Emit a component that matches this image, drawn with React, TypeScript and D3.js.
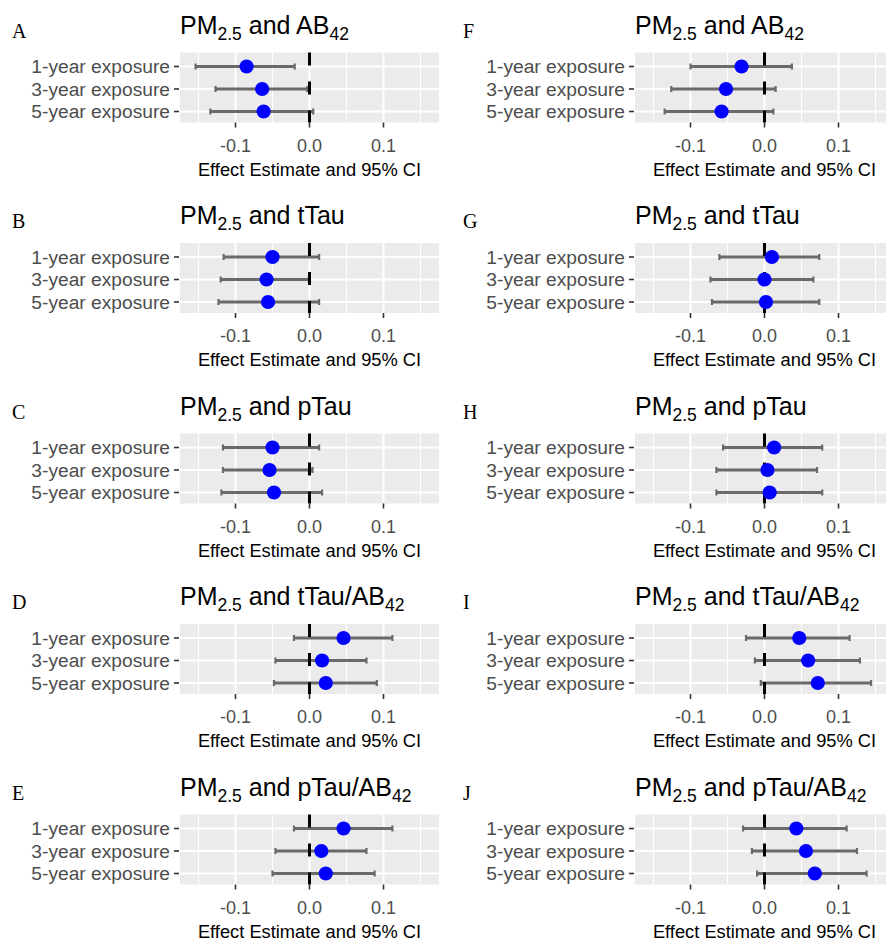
import React from "react";
import * as d3 from "d3";

const categories = ["1-year exposure", "3-year exposure", "5-year exposure"];
const xTicks = [-0.1, 0, 0.1];
const xMinor = [-0.15, -0.05, 0.05, 0.15];
const xTickLabels = ["-0.1", "0.0", "0.1"];
const xDomain = [-0.175, 0.175];
const axisTitle = "Effect Estimate and 95% CI";

const lettersLeft = ["A", "B", "C", "D", "E"];
const lettersRight = ["F", "G", "H", "I", "J"];
const outcomeMain = ["AB", "tTau", "pTau", "tTau/AB", "pTau/AB"];
const outcomeSub = ["42", "", "", "42", "42"];

// Left column (A–E)
const estA = [-0.085, -0.064, -0.062];
const lowA = [-0.154, -0.127, -0.134];
const highA = [-0.02, -0.003, 0.005];
const estB = [-0.05, -0.058, -0.056];
const lowB = [-0.116, -0.12, -0.123];
const highB = [0.013, -0.001, 0.013];
const estC = [-0.05, -0.054, -0.048];
const lowC = [-0.117, -0.117, -0.119];
const highC = [0.013, 0.004, 0.017];
const estD = [0.046, 0.017, 0.022];
const lowD = [-0.021, -0.046, -0.048];
const highD = [0.112, 0.077, 0.091];
const estE = [0.046, 0.016, 0.022];
const lowE = [-0.021, -0.046, -0.05];
const highE = [0.112, 0.077, 0.088];

// Right column (F–J)
const estF = [-0.031, -0.052, -0.058];
const lowF = [-0.1, -0.126, -0.135];
const highF = [0.037, 0.015, 0.012];
const estG = [0.01, 0.0, 0.002];
const lowG = [-0.061, -0.073, -0.071];
const highG = [0.074, 0.066, 0.074];
const estH = [0.013, 0.004, 0.007];
const lowH = [-0.056, -0.065, -0.065];
const highH = [0.078, 0.071, 0.078];
const estI = [0.047, 0.059, 0.072];
const lowI = [-0.025, -0.013, -0.005];
const highI = [0.115, 0.129, 0.144];
const estJ = [0.043, 0.056, 0.068];
const lowJ = [-0.029, -0.017, -0.01];
const highJ = [0.111, 0.125, 0.138];

const leftSeries = [
  [estA, lowA, highA],
  [estB, lowB, highB],
  [estC, lowC, highC],
  [estD, lowD, highD],
  [estE, lowE, highE],
];
const rightSeries = [
  [estF, lowF, highF],
  [estG, lowG, highG],
  [estH, lowH, highH],
  [estI, lowI, highI],
  [estJ, lowJ, highJ],
];

const W = 886;
const H = 940;
const rowTops = [52.5, 243, 433.5, 624, 814.5];
const colLeft = [180, 635];
const colLetterX = [12, 463];
const PW = 259;
const PH = 70;
const SANS = "'Liberation Sans', Arial, Helvetica, sans-serif";
const SERIF = "'Liberation Serif', 'Times New Roman', serif";

type PanelProps = {
  left: number;
  top: number;
  letterX: number;
  letter: string;
  main: string;
  sub: string;
  est: number[];
  low: number[];
  high: number[];
};

function Panel({ left, top, letterX, letter, main, sub, est, low, high }: PanelProps) {
  const x = d3.scaleLinear().domain(xDomain).range([left, left + PW]);
  const y = d3.scalePoint<string>().domain(categories).range([top + 14, top + 59]);
  const capH = 3;
  return (
    <g>
      <text x={letterX} y={top - 15} fontFamily={SERIF} fontSize={20} fill="#000">
        {letter}
      </text>
      <text x={left} y={top - 19} fontFamily={SANS} fontSize={25} fill="#000">
        <tspan>PM</tspan>
        <tspan fontSize={17.5} dy={6}>2.5</tspan>
        <tspan dy={-6}>{" and " + main}</tspan>
        {sub ? (
          <tspan fontSize={17.5} dy={6}>
            {sub}
          </tspan>
        ) : null}
      </text>
      <rect x={left} y={top} width={PW} height={PH} fill="#EBEBEB" />
      {xMinor.map((t) => (
        <line key={"mn" + t} x1={x(t)} x2={x(t)} y1={top} y2={top + PH} stroke="#fff" strokeWidth={1} />
      ))}
      {xTicks.map((t) => (
        <line key={"mj" + t} x1={x(t)} x2={x(t)} y1={top} y2={top + PH} stroke="#fff" strokeWidth={2} />
      ))}
      {categories.map((c) => (
        <line key={"hg" + c} x1={left} x2={left + PW} y1={y(c)} y2={y(c)} stroke="#fff" strokeWidth={2} />
      ))}
      {categories.map((c, i) => (
        <g key={"eb" + c}>
          <line x1={x(low[i])} x2={x(high[i])} y1={y(c)} y2={y(c)} stroke="#6A6A6A" strokeWidth={2.8} />
          <line x1={x(low[i])} x2={x(low[i])} y1={y(c)! - capH} y2={y(c)! + capH} stroke="#6A6A6A" strokeWidth={2.2} />
          <line x1={x(high[i])} x2={x(high[i])} y1={y(c)! - capH} y2={y(c)! + capH} stroke="#6A6A6A" strokeWidth={2.2} />
        </g>
      ))}
      <line
        x1={x(0)}
        x2={x(0)}
        y1={top}
        y2={top + PH}
        stroke="#000"
        strokeWidth={3}
        strokeDasharray="13,16"
      />
      {categories.map((c, i) => (
        <circle key={"pt" + c} cx={x(est[i])} cy={y(c)} r={7.1} fill="#0000FF" />
      ))}
      {categories.map((c) => (
        <g key={"yl" + c}>
          <line x1={left - 6} x2={left - 1} y1={y(c)} y2={y(c)} stroke="#333" strokeWidth={1.6} />
          <text
            x={left - 10}
            y={y(c)}
            dy="0.36em"
            textAnchor="end"
            fontFamily={SANS}
            fontSize={19.2}
            fill="#4D4D4D"
          >
            {c}
          </text>
        </g>
      ))}
      {xTicks.map((t, i) => (
        <g key={"xt" + t}>
          <line x1={x(t)} x2={x(t)} y1={top + PH} y2={top + PH + 5} stroke="#333" strokeWidth={1.6} />
          <text x={x(t)} y={top + 99} textAnchor="middle" fontFamily={SANS} fontSize={18} fill="#4D4D4D">
            {xTickLabels[i]}
          </text>
        </g>
      ))}
      <text
        x={left + PW / 2}
        y={top + 123}
        textAnchor="middle"
        fontFamily={SANS}
        fontSize={18.3}
        fill="#000"
      >
        {axisTitle}
      </text>
    </g>
  );
}

export default function App() {
  const cols = [
    { letters: lettersLeft, series: leftSeries },
    { letters: lettersRight, series: rightSeries },
  ];
  return (
    <div style={{ position: "absolute", left: 0, top: 0, background: "#fff" }}>
      <svg width={W} height={H} viewBox={`0 0 ${W} ${H}`} style={{ display: "block", background: "#fff" }}>
        <rect width={W} height={H} fill="#fff" />
        {cols.map((col, ci) =>
          rowTops.map((top, ri) => (
            <Panel
              key={ci + "-" + ri}
              left={colLeft[ci]}
              top={top}
              letterX={colLetterX[ci]}
              letter={col.letters[ri]}
              main={outcomeMain[ri]}
              sub={outcomeSub[ri]}
              est={col.series[ri][0]}
              low={col.series[ri][1]}
              high={col.series[ri][2]}
            />
          ))
        )}
      </svg>
    </div>
  );
}
